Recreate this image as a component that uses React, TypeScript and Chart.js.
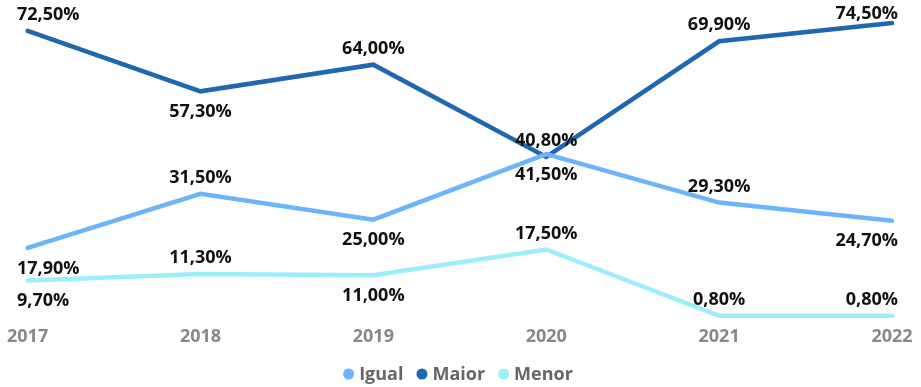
import React, { useEffect, useRef } from "react";
import { Chart, registerables } from "chart.js";

Chart.register(...registerables);

const years = ["2017", "2018", "2019", "2020", "2021", "2022"];
const igual = [17.9, 31.5, 25.0, 41.5, 29.3, 24.7];
const maior = [72.5, 57.3, 64.0, 40.8, 69.9, 74.5];
const menor = [9.7, 11.3, 11.0, 17.5, 0.8, 0.8];

// label placement per series: 1 = above, -1 = below
const igualPos = [-1, 1, -1, -1, 1, -1];
const maiorPos = [1, -1, 1, 1, 1, 1];
const menorPos = [-1, 1, -1, 1, 1, 1];

const FONT = "'Open Sans', 'DejaVu Sans', sans-serif";

const fmt = (v: number) => v.toFixed(2).replace(".", ",") + "%";

const labelPlugin = {
  id: "valueLabels",
  afterDatasetsDraw(chart: any) {
    const ctx = chart.ctx;
    ctx.save();
    ctx.font = `700 18px ${FONT}`;
    ctx.fillStyle = "#111111";
    ctx.textBaseline = "middle";
    ctx.textAlign = "left";
    chart.data.datasets.forEach((ds: any, di: number) => {
      const meta = chart.getDatasetMeta(di);
      meta.data.forEach((pt: any, i: number) => {
        const text = fmt(ds.data[i]);
        const w = ctx.measureText(text).width;
        let x = pt.x - w / 2;
        if (x < 17) x = 17;
        if (x + w > 898) x = 898 - w;
        const pos = ds.labelPos[i];
        let y = pos > 0 ? pt.y - 16 : pt.y + 20.5;
        if (y < 14) y = 14;
        ctx.fillText(text, x, y);
      });
    });
    ctx.restore();
  },
};

const legendPlugin = {
  id: "customLegend",
  afterDraw(chart: any) {
    const ctx = chart.ctx;
    ctx.save();
    ctx.font = `700 18px ${FONT}`;
    ctx.textBaseline = "middle";
    ctx.textAlign = "left";
    const d = 11;
    const gapIn = 5;
    const gapOut = 13;
    const items = chart.data.datasets.map((ds: any) => ({
      label: ds.label,
      color: ds.borderColor,
      w: ctx.measureText(ds.label).width,
    }));
    const total =
      items.reduce((s: number, it: any) => s + d + gapIn + it.w, 0) +
      gapOut * (items.length - 1);
    let x = 458 - total / 2;
    const y = 374;
    items.forEach((it: any) => {
      ctx.fillStyle = it.color;
      ctx.beginPath();
      ctx.arc(x + d / 2, y, d / 2, 0, Math.PI * 2);
      ctx.fill();
      ctx.fillStyle = "#666666";
      ctx.fillText(it.label, x + d + gapIn, y + 1);
      x += d + gapIn + it.w + gapOut;
    });
    ctx.restore();
  },
};

export default function App() {
  const ref = useRef<HTMLCanvasElement>(null);
  useEffect(() => {
    document.body.style.margin = "0";
    if (!ref.current) return;
    const chart = new Chart(ref.current, {
      type: "line",
      data: {
        labels: years,
        datasets: [
          { label: "Igual", data: igual, labelPos: igualPos, borderColor: "#6cb4fc", backgroundColor: "#6cb4fc" } as any,
          { label: "Maior", data: maior, labelPos: maiorPos, borderColor: "#1f67b0", backgroundColor: "#1f67b0" } as any,
          { label: "Menor", data: menor, labelPos: menorPos, borderColor: "#9deefd", backgroundColor: "#9deefd" } as any,
        ],
      },
      options: {
        animation: false,
        responsive: false,
        elements: {
          line: { borderWidth: 4.5, tension: 0, borderCapStyle: "round", borderJoinStyle: "miter" },
          point: { radius: 0, hoverRadius: 0 },
        },
        layout: { padding: { left: 24, right: 29, top: 21, bottom: 32.4 } },
        plugins: { legend: { display: false }, tooltip: { enabled: false } },
        scales: {
          x: {
            offset: false,
            grid: { display: false, drawTicks: false },
            border: { display: false },
            ticks: {
              color: "#888888",
              font: { family: FONT, size: 18, weight: "bold" },
              padding: 7,
              maxRotation: 0,
              autoSkip: false,
            },
          },
          y: { display: false, min: 0, max: 75 },
        },
      },
      plugins: [labelPlugin, legendPlugin],
    });
    return () => chart.destroy();
  }, []);
  return <canvas ref={ref} width={921} height={387} style={{ display: "block" }} />;
}
